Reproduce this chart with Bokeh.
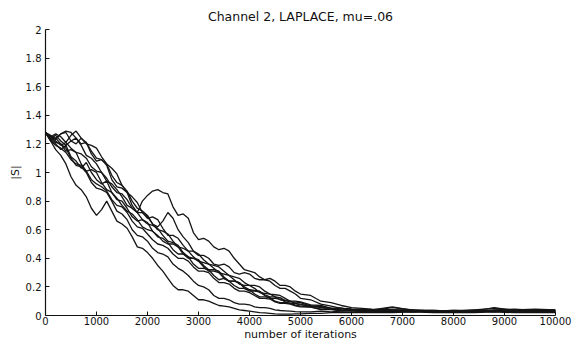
from bokeh.plotting import figure
from bokeh.models import Range1d, FixedTicker, CustomJSTickFormatter
from bokeh.embed import file_html
from bokeh.resources import INLINE

iters = (list(range(0, 5001, 100))
         + [5200, 5400, 5600, 5800, 6000]
         + [6400, 6800, 7200, 7600, 8000, 8400, 8800, 9200, 9600, 10000])

run_a = [1.28, 1.23, 1.24, 1.27, 1.28, 1.22, 1.20, 1.24, 1.21, 1.15, 1.10,
         1.09, 1.05, 0.95, 0.90, 0.89, 0.86, 0.77, 0.72, 0.80, 0.84,
         0.87, 0.88, 0.86, 0.85, 0.76, 0.70, 0.71, 0.68, 0.58, 0.53,
         0.54, 0.52, 0.48, 0.46, 0.47, 0.45, 0.40, 0.36, 0.32, 0.31,
         0.30, 0.27, 0.25, 0.26, 0.24, 0.21, 0.21, 0.20, 0.17, 0.15,
         0.14, 0.10, 0.09, 0.07, 0.055,
         0.045, 0.04, 0.035, 0.03, 0.03, 0.035, 0.03, 0.03, 0.035, 0.03]
run_b = [1.28, 1.25, 1.22, 1.19, 1.21, 1.17, 1.14, 1.13, 1.10, 1.04, 1.01,
         1.00, 0.96, 0.90, 0.86, 0.85, 0.81, 0.75, 0.72, 0.72, 0.69,
         0.64, 0.62, 0.66, 0.72, 0.68, 0.60, 0.55, 0.51, 0.45, 0.42,
         0.42, 0.40, 0.36, 0.35, 0.36, 0.34, 0.30, 0.29, 0.30, 0.29,
         0.26, 0.25, 0.25, 0.24, 0.21, 0.19, 0.19, 0.17, 0.15, 0.12,
         0.11, 0.08, 0.065, 0.05, 0.045,
         0.04, 0.06, 0.035, 0.03, 0.025, 0.03, 0.035, 0.03, 0.04, 0.03]
run_c = [1.28, 1.22, 1.16, 1.12, 1.06, 0.97, 0.91, 0.88, 0.83, 0.75, 0.70,
         0.74, 0.80, 0.73, 0.66, 0.64, 0.61, 0.55, 0.48, 0.47, 0.44,
         0.40, 0.35, 0.31, 0.26, 0.21, 0.18, 0.18, 0.17, 0.14, 0.11,
         0.11, 0.10, 0.085, 0.07, 0.065, 0.06, 0.05, 0.04, 0.035, 0.03,
         0.025, 0.02, 0.018, 0.015, 0.012, 0.01, 0.01, 0.01, 0.011, 0.012,
         0.015, 0.015, 0.02, 0.02, 0.02,
         0.02, 0.02, 0.025, 0.02, 0.02, 0.02, 0.025, 0.02, 0.02, 0.02]
run_d = [1.28, 1.24, 1.21, 1.20, 1.17, 1.10, 1.05, 1.04, 1.00, 0.93, 0.89,
         0.88, 0.86, 0.80, 0.73, 0.71, 0.67, 0.60, 0.56, 0.55, 0.52,
         0.47, 0.44, 0.43, 0.41, 0.36, 0.33, 0.31, 0.28, 0.24, 0.21,
         0.20, 0.18, 0.14, 0.12, 0.12, 0.11, 0.09, 0.08, 0.08, 0.075,
         0.06, 0.055, 0.055, 0.05, 0.04, 0.035, 0.033, 0.03, 0.027, 0.025,
         0.025, 0.03, 0.025, 0.03, 0.03,
         0.025, 0.03, 0.025, 0.03, 0.025, 0.03, 0.025, 0.03, 0.025, 0.03]
run_e = [1.28, 1.26, 1.23, 1.27, 1.29, 1.28, 1.24, 1.20, 1.21, 1.13, 1.08,
         1.09, 1.06, 0.98, 0.93, 0.91, 0.87, 0.80, 0.75, 0.73, 0.70,
         0.64, 0.60, 0.59, 0.57, 0.52, 0.48, 0.47, 0.45, 0.41, 0.38,
         0.37, 0.36, 0.33, 0.30, 0.29, 0.28, 0.25, 0.22, 0.21, 0.21,
         0.19, 0.16, 0.155, 0.15, 0.13, 0.11, 0.105, 0.10, 0.085, 0.075,
         0.07, 0.055, 0.05, 0.04, 0.04,
         0.035, 0.055, 0.04, 0.035, 0.03, 0.04, 0.05, 0.035, 0.04, 0.04]
run_f = [1.28, 1.25, 1.27, 1.25, 1.21, 1.26, 1.29, 1.24, 1.20, 1.19, 1.17,
         1.11, 1.06, 1.03, 0.99, 0.91, 0.86, 0.83, 0.79, 0.72, 0.68,
         0.69, 0.67, 0.61, 0.56, 0.56, 0.54, 0.49, 0.45, 0.45, 0.43,
         0.39, 0.36, 0.35, 0.34, 0.31, 0.28, 0.27, 0.26, 0.23, 0.21,
         0.21, 0.20, 0.17, 0.15, 0.145, 0.14, 0.12, 0.10, 0.10, 0.095,
         0.075, 0.07, 0.05, 0.05, 0.045,
         0.04, 0.035, 0.04, 0.03, 0.035, 0.03, 0.04, 0.045, 0.035, 0.035]
run_g = [1.28, 1.23, 1.20, 1.16, 1.19, 1.11, 1.08, 1.03, 1.07, 1.00, 0.95,
         0.92, 0.94, 0.86, 0.81, 0.80, 0.75, 0.69, 0.66, 0.67, 0.65,
         0.59, 0.55, 0.54, 0.51, 0.46, 0.43, 0.43, 0.41, 0.36, 0.33,
         0.33, 0.32, 0.28, 0.25, 0.26, 0.24, 0.21, 0.19, 0.19, 0.18,
         0.15, 0.13, 0.13, 0.125, 0.10, 0.09, 0.09, 0.085, 0.072, 0.065,
         0.06, 0.045, 0.045, 0.035, 0.035,
         0.03, 0.03, 0.025, 0.03, 0.025, 0.03, 0.03, 0.025, 0.03, 0.03]
run_h = [1.28, 1.25, 1.24, 1.20, 1.15, 1.16, 1.14, 1.06, 1.01, 1.02, 1.00,
         0.93, 0.88, 0.86, 0.82, 0.77, 0.73, 0.71, 0.67, 0.62, 0.60,
         0.59, 0.56, 0.52, 0.50, 0.50, 0.48, 0.43, 0.40, 0.40, 0.38,
         0.34, 0.31, 0.31, 0.30, 0.26, 0.24, 0.24, 0.23, 0.19, 0.17,
         0.17, 0.165, 0.14, 0.12, 0.12, 0.115, 0.095, 0.085, 0.083, 0.08,
         0.06, 0.06, 0.045, 0.05, 0.04,
         0.04, 0.035, 0.03, 0.035, 0.03, 0.03, 0.055, 0.035, 0.03, 0.035]
run_i = [1.28, 1.22, 1.19, 1.17, 1.14, 1.09, 1.06, 1.05, 1.01, 0.95, 0.92,
         0.90, 0.87, 0.81, 0.77, 0.76, 0.72, 0.66, 0.62, 0.61, 0.57,
         0.53, 0.50, 0.49, 0.47, 0.43, 0.40, 0.40, 0.38, 0.34, 0.31,
         0.31, 0.30, 0.26, 0.23, 0.23, 0.22, 0.19, 0.17, 0.17, 0.16,
         0.14, 0.12, 0.12, 0.115, 0.095, 0.085, 0.085, 0.08, 0.068, 0.06,
         0.058, 0.042, 0.042, 0.033, 0.036,
         0.03, 0.025, 0.03, 0.025, 0.03, 0.025, 0.03, 0.03, 0.025, 0.025]
run_j = [1.28, 1.24, 1.26, 1.22, 1.19, 1.22, 1.24, 1.19, 1.12, 1.10, 1.06,
         1.00, 0.94, 0.92, 0.88, 0.83, 0.77, 0.75, 0.72, 0.67, 0.64,
         0.63, 0.61, 0.56, 0.52, 0.51, 0.49, 0.44, 0.41, 0.40, 0.39,
         0.35, 0.32, 0.32, 0.31, 0.27, 0.24, 0.24, 0.23, 0.20, 0.18,
         0.175, 0.17, 0.145, 0.13, 0.13, 0.125, 0.105, 0.095, 0.094, 0.09,
         0.065, 0.063, 0.05, 0.052, 0.042,
         0.04, 0.04, 0.035, 0.03, 0.035, 0.035, 0.03, 0.04, 0.045, 0.04]

runs = [run_a, run_b, run_c, run_d, run_e, run_f, run_g, run_h, run_i, run_j]

x_ticks = [0, 1000, 2000, 3000, 4000, 5000, 6000, 7000, 8000, 9000, 10000]
y_ticks = [0, 0.2, 0.4, 0.6, 0.8, 1.0, 1.2, 1.4, 1.6, 1.8, 2.0]

FONT = "DejaVu Sans"

p = figure(width=585, height=343, output_backend="svg", toolbar_location=None,
           x_range=Range1d(0, 10000), y_range=Range1d(0, 2),
           min_border_left=45, min_border_right=30, min_border_top=29, min_border_bottom=27)

p.title.text = "Channel 2, LAPLACE, mu=.06"
p.title.align = "center"
p.title.text_font = FONT
p.title.text_font_size = "12.5px"
p.title.text_font_style = "normal"
p.title.text_color = "#111111"
p.title.standoff = 12

p.outline_line_color = None
p.xgrid.visible = False
p.ygrid.visible = False
p.background_fill_color = "white"
p.border_fill_color = "white"

for ax in (p.xaxis[0], p.yaxis[0]):
    ax.axis_line_color = "#111111"
    ax.axis_line_width = 1.2
    ax.major_tick_in = 4
    ax.major_tick_out = 0
    ax.major_tick_line_color = "#111111"
    ax.minor_tick_line_color = None
    ax.major_label_text_font = FONT
    ax.major_label_text_font_size = "10px"
    ax.major_label_text_color = "#111111"
    ax.axis_label_text_font = FONT
    ax.axis_label_text_font_size = "11px"
    ax.axis_label_text_font_style = "normal"
    ax.axis_label_text_color = "#111111"

p.xaxis.ticker = FixedTicker(ticks=x_ticks)
p.yaxis.ticker = FixedTicker(ticks=y_ticks)
p.yaxis.formatter = CustomJSTickFormatter(code="return String(Math.round(tick * 10) / 10);")
p.xaxis.major_label_standoff = 1
p.yaxis.major_label_standoff = 4
p.xaxis.axis_label = "number of iterations"
p.yaxis.axis_label = "|S|"
p.xaxis.axis_label_standoff = 0
p.yaxis.axis_label_standoff = 1

for r in runs:
    p.line(iters, r, line_color="#151515", line_width=1.3)

open("out.html", "w").write(file_html(p, INLINE))
